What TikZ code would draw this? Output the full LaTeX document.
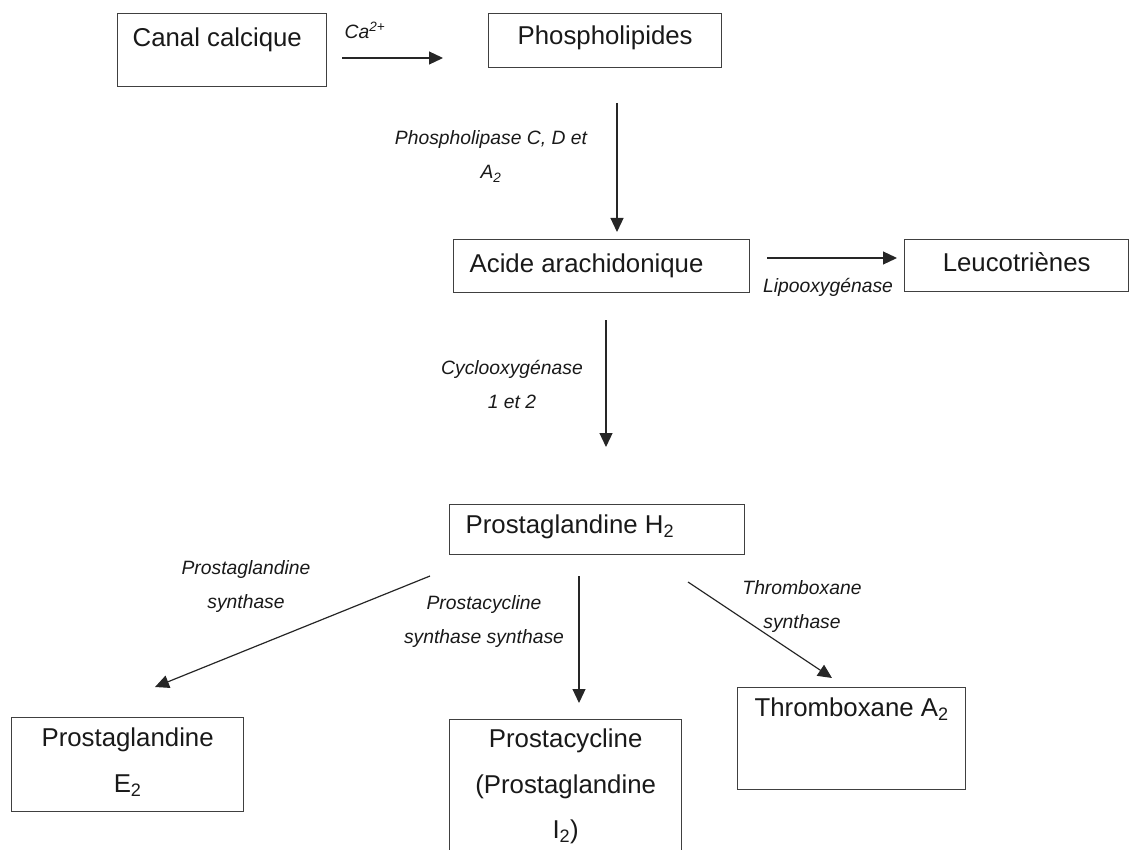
\documentclass[tikz,border=0pt]{standalone}
\usepackage{fontspec}
\setmainfont{Liberation Sans}
\usetikzlibrary{positioning}
\usetikzlibrary{arrows.meta}
\tikzset{
    objBox/.style={rectangle, anchor=north west, draw=black!75, line width=1.3pt, inner sep=0pt, text=black!90, font=\fontsize{25.8}{45.5}\selectfont},
    objLabel/.style={inner sep=0pt, text width=260pt, align=flush center, anchor=base, text=black!90, font=\fontsize{19.3}{34}\selectfont\itshape},
    arrow/.style={line width=1.2pt, draw=black!85, -{Triangle[length=14pt, width=13pt]}}
}

\begin{document}
\begin{tikzpicture}[x=1pt, y=-1pt]

    \useasboundingbox (0,0) rectangle (1131,850);
    \clip (0,0) rectangle (1131,850);

    \node (001) [objBox, text width=209pt, text height=33pt, text depth=40pt, align=flush left] at (117,13) {\hspace*{15pt}Canal calcique};
    \node (002) [objBox, text width=233pt, text height=31pt, text depth=23pt, align=flush center] at (488,13) {Phospholipides};
    \node (003) [objBox, text width=296pt, text height=33pt, text depth=20pt, align=flush left] at (453,239) {\hspace*{16pt}Acide arachidonique};
    \node (004) [objBox, text width=224pt, text height=32pt, text depth=20pt, align=flush center] at (904,239) {Leucotriènes};
    \node (005) [objBox, text width=295pt, text height=29pt, text depth=21pt, align=flush left] at (449,504) {\hspace*{16pt}Prostaglandine H\textsubscript{2}};
    \node (006) [objBox, text width=232pt, text height=29pt, text depth=65pt, align=flush center] at (11,717) {Prostaglandine\\E\textsubscript{2}};
    \node (007) [objBox, text width=232pt, text height=28pt, text depth=123pt, align=flush center] at (449,719) {Prostacycline\\(Prostaglandine\\I\textsubscript{2})};
    \node (008) [objBox, text width=228pt, text height=29pt, text depth=73pt, align=flush center] at (737,687) {Thromboxane A\textsubscript{2}};

    \coordinate (c01s) at (342,58);
    \coordinate (c01e) at (443,58);
    \coordinate (c02s) at (617,103);
    \coordinate (c02e) at (617,232);
    \coordinate (c03s) at (767,258);
    \coordinate (c03e) at (897,258);
    \coordinate (c04s) at (606,320);
    \coordinate (c04e) at (606,447);
    \coordinate (c05s) at (430,576);
    \coordinate (c05e) at (155,687);
    \coordinate (c06s) at (579,576);
    \coordinate (c06e) at (579,703);
    \coordinate (c07s) at (688,582);
    \coordinate (c07e) at (832,678);

    \draw [arrow] (c01s) -- (c01e);
    \draw [arrow] (c02s) -- (c02e);
    \draw [arrow] (c03s) -- (c03e);
    \draw [arrow] (c04s) -- (c04e);
    \draw [arrow] (c05s) -- (c05e);
    \draw [arrow] (c06s) -- (c06e);
    \draw [arrow] (c07s) -- (c07e);

    \node (101) [objLabel] at (365,39) {Ca\textsuperscript{2+}};
    \node (102) [objLabel] at (491,145) {Phospholipase C, D et\\A\textsubscript{2}};
    \node (103) [objLabel] at (828,292) {Lipooxygénase};
    \node (104) [objLabel] at (512,374) {Cyclooxygénase\\1 et 2};
    \node (105) [objLabel] at (246,574) {Prostaglandine\\synthase};
    \node (106) [objLabel] at (484,609) {Prostacycline\\synthase synthase};
    \node (107) [objLabel] at (802,594) {Thromboxane\\synthase};

\end{tikzpicture}
\end{document}
